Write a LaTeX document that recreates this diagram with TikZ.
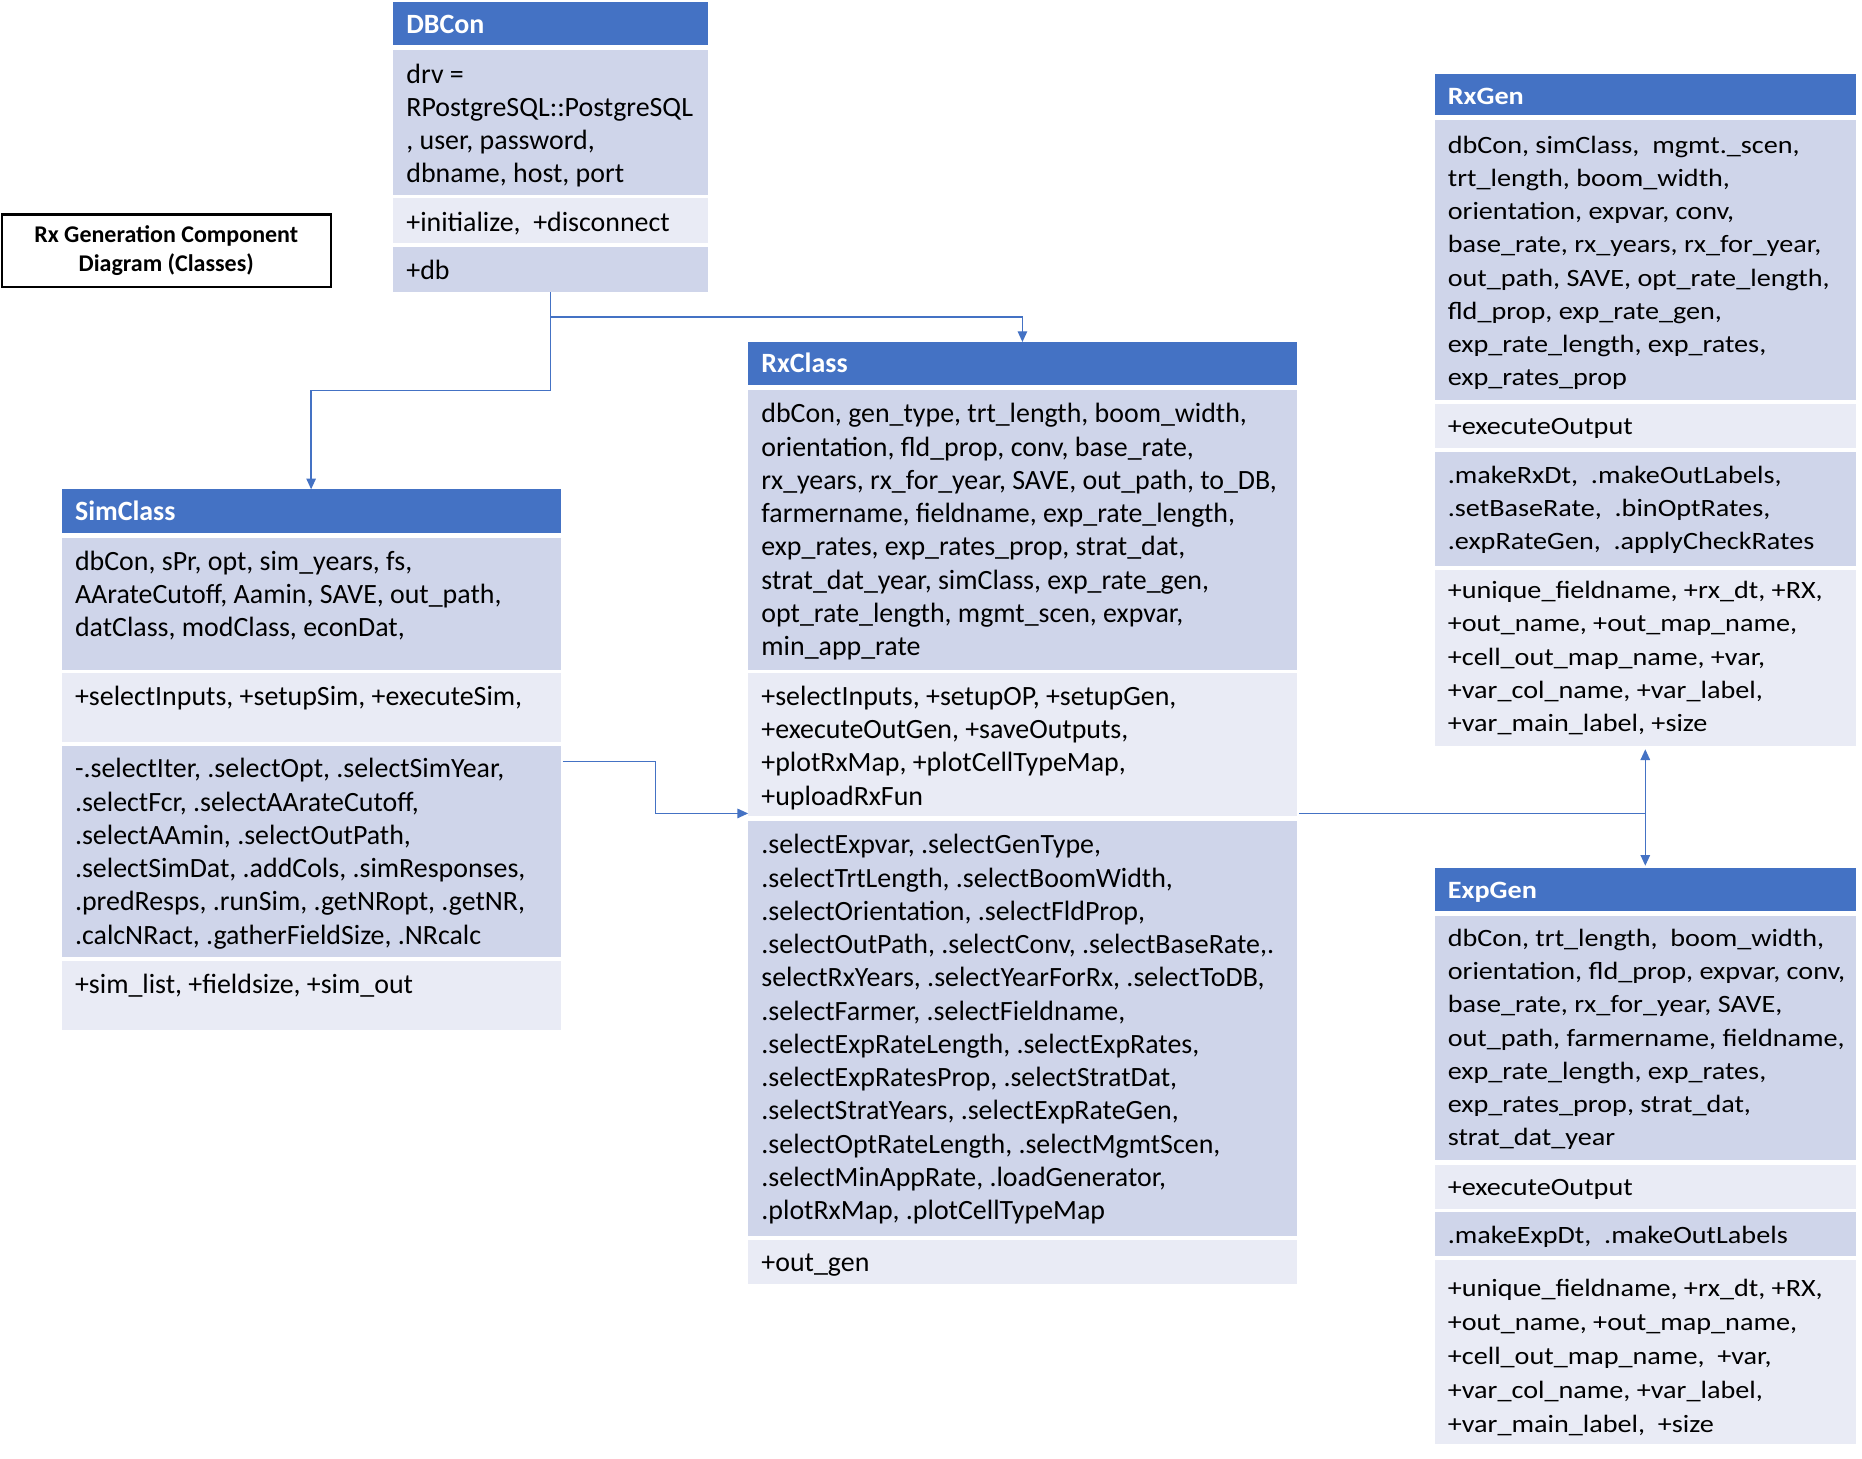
\documentclass[tikz,border=0pt]{standalone}
\usepackage{fontspec}
\setmainfont{Carlito}
\newfontfamily\widefont[FakeStretch=1.13]{Carlito}
\usetikzlibrary{arrows.meta}
\definecolor{hdrblue}{HTML}{4472C4}
\definecolor{rowdark}{HTML}{CFD5EA}
\definecolor{rowlight}{HTML}{E9EBF5}
\tikzset{
  hdr/.style={rectangle, fill=hdrblue, inner sep=0pt, outer sep=0pt},
  sec/.style={rectangle, inner sep=0pt, outer sep=0pt},
  hdrtext/.style={inner sep=0pt, text=white, font=\fontsize{23.5}{28}\selectfont\bfseries},
  hdrtextw/.style={inner sep=0pt, text=white, font=\widefont\fontsize{21}{28}\selectfont\bfseries},
  txt/.style={inner sep=0pt, font=\fontsize{23.5}{28}\selectfont},
  txtw/.style={inner sep=0pt, font=\widefont\fontsize{21}{28}\selectfont},
  conn/.style={draw=hdrblue, line width=1.1pt},
  tip/.style={-{Triangle[length=9pt,width=8pt]}},
  titlebox/.style={draw=black, line width=2pt, minimum width=277pt, minimum height=61pt,
    inner sep=0pt, align=center, font=\fontsize{20.2}{24}\selectfont\bfseries},
}
% name, x, ytop, ybot, width, title, style
\newcommand\clshead[7]{%
  \node[hdr, minimum width=#5, minimum height=#4-#3, anchor=north west] (#1) at (#2,#3) {};
  \node[#7, anchor=base west] (#1-t) at (#2+11,#3+26) {#6};
}
% name, x, ytop, ybot, width, fill, style, text, baseline offset
\newcommand\clssec[9]{%
  \node[sec, fill=#6, minimum width=#5, minimum height=#4-#3, anchor=north west] (#1) at (#2,#3) {};
  \node[#7, anchor=base west] (#1-t) at (#2+11,#3+#9) {\parbox[t]{#5pt}{\raggedright #8}};
}
\begin{document}
\begin{tikzpicture}[x=1pt, y=-1pt]
\useasboundingbox (0,0) rectangle (1568,1228);

% title
\node[titlebox] (title) at (140,211) {Rx Generation Component\\Diagram (Classes)};

% DBCon
\clshead{dbcon}{331}{2}{38}{265}{DBCon}{hdrtext}
\clssec{dbcon-s1}{331}{42}{164}{265}{rowdark}{txt}{drv =\\RPostgreSQL::PostgreSQL\\, user, password,\\dbname, host, port}{28}
\clssec{dbcon-s2}{331}{167}{205}{265}{rowlight}{txt}{+initialize,\ \ +disconnect}{28}
\clssec{dbcon-s3}{331}{208}{246}{265}{rowdark}{txt}{+db}{27}

% SimClass
\clshead{simclass}{52}{412}{449}{420}{SimClass}{hdrtext}
\clssec{simclass-s1}{52}{453}{564}{420}{rowdark}{txt}{dbCon, sPr, opt, sim\_years, fs,\\AArateCutoff, Aamin, SAVE, out\_path,\\datClass, modClass, econDat,}{27}
\clssec{simclass-s2}{52}{567}{625}{420}{rowlight}{txt}{+selectInputs, +setupSim, +executeSim,}{27}
\clssec{simclass-s3}{52}{628}{806}{420}{rowdark}{txt}{-.selectIter, .selectOpt, .selectSimYear,\\.selectFcr, .selectAArateCutoff,\\.selectAAmin, .selectOutPath,\\.selectSimDat, .addCols, .simResponses,\\.predResps, .runSim, .getNRopt, .getNR,\\.calcNRact, .gatherFieldSize, .NRcalc}{27}
\clssec{simclass-s4}{52}{809}{867}{420}{rowlight}{txt}{+sim\_list, +fieldsize, +sim\_out}{28}

% RxClass
\clshead{rxclass}{630}{288}{324}{462}{RxClass}{hdrtext}
\clssec{rxclass-s1}{630}{328}{564}{462}{rowdark}{txt}{dbCon, gen\_type, trt\_length, boom\_width,\\orientation, fld\_prop, conv, base\_rate,\\rx\_years, rx\_for\_year, SAVE, out\_path, to\_DB,\\farmername, fieldname, exp\_rate\_length,\\exp\_rates, exp\_rates\_prop, strat\_dat,\\strat\_dat\_year, simClass, exp\_rate\_gen,\\opt\_rate\_length, mgmt\_scen, expvar,\\min\_app\_rate}{28}
\clssec{rxclass-s2}{630}{567}{687}{462}{rowlight}{txt}{+selectInputs, +setupOP, +setupGen,\\+executeOutGen, +saveOutputs,\\+plotRxMap, +plotCellTypeMap,\\+uploadRxFun}{27}
\clssec{rxclass-s3}{630}{691}{1041}{462}{rowdark}{txt}{.selectExpvar, .selectGenType,\\.selectTrtLength, .selectBoomWidth,\\.selectOrientation, .selectFldProp,\\.selectOutPath, .selectConv, .selectBaseRate,.\\selectRxYears, .selectYearForRx, .selectToDB,\\.selectFarmer, .selectFieldname,\\.selectExpRateLength, .selectExpRates,\\.selectExpRatesProp, .selectStratDat,\\.selectStratYears, .selectExpRateGen,\\.selectOptRateLength, .selectMgmtScen,\\.selectMinAppRate, .loadGenerator,\\.plotRxMap, .plotCellTypeMap}{28}
\clssec{rxclass-s4}{630}{1044}{1081}{462}{rowlight}{txt}{+out\_gen}{27}

% RxGen
\clshead{rxgen}{1208}{62}{97}{355}{RxGen}{hdrtextw}
\clssec{rxgen-s1}{1208}{101}{337}{355}{rowdark}{txtw}{dbCon, simClass,\ \ mgmt.\_scen,\\trt\_length, boom\_width,\\orientation, expvar, conv,\\base\_rate, rx\_years, rx\_for\_year,\\out\_path, SAVE, opt\_rate\_length,\\fld\_prop, exp\_rate\_gen,\\exp\_rate\_length, exp\_rates,\\exp\_rates\_prop}{28}
\clssec{rxgen-s2}{1208}{340}{377}{355}{rowlight}{txtw}{+executeOutput}{26}
\clssec{rxgen-s3}{1208}{381}{477}{355}{rowdark}{txtw}{.makeRxDt,\ \ .makeOutLabels,\\.setBaseRate,\ \ .binOptRates,\\.expRateGen,\ \ .applyCheckRates}{26}
\clssec{rxgen-s4}{1208}{480}{628}{355}{rowlight}{txtw}{+unique\_fieldname, +rx\_dt, +RX,\\+out\_name, +out\_map\_name,\\+cell\_out\_map\_name, +var,\\+var\_col\_name, +var\_label,\\+var\_main\_label, +size}{24}

% ExpGen
\clshead{expgen}{1208}{731}{767}{355}{ExpGen}{hdrtextw}
\clssec{expgen-s1}{1208}{771}{977}{355}{rowdark}{txtw}{dbCon, trt\_length,\ \ boom\_width,\\orientation, fld\_prop, expvar, conv,\\base\_rate, rx\_for\_year, SAVE,\\out\_path, farmername, fieldname,\\exp\_rate\_length, exp\_rates,\\exp\_rates\_prop, strat\_dat,\\strat\_dat\_year}{26}
\clssec{expgen-s2}{1208}{981}{1018}{355}{rowlight}{txtw}{+executeOutput}{26}
\clssec{expgen-s3}{1208}{1021}{1058}{355}{rowdark}{txtw}{.makeExpDt,\ \ .makeOutLabels}{26}
\clssec{expgen-s4}{1208}{1061}{1216}{355}{rowlight}{txtw}{\baselineskip=28.5pt +unique\_fieldname, +rx\_dt, +RX,\\+out\_name, +out\_map\_name,\\+cell\_out\_map\_name,\ \ +var,\\+var\_col\_name, +var\_label,\\+var\_main\_label,\ \ +size}{31}

% connectors
\coordinate (bendA) at (463.5,329);
\coordinate (bendB) at (463.5,267);
\draw[conn,tip] (dbcon-s3.south) -- (bendA) -| (simclass.north);
\draw[conn,tip] (bendB) -| (rxclass.north);
\coordinate (simout) at (474,641);
\coordinate (bendC) at (552,641);
\draw[conn,tip] (simout) -- (bendC) |- ([yshift=2pt]rxclass-s2.south west);
\coordinate (rxout) at ([yshift=2pt,xshift=2pt]rxclass-s2.south east);
\coordinate (j2) at (rxgen-s4.south |- rxout);
\draw[conn] (rxout) -- (j2);
\draw[conn,tip,shorten >=3pt] (j2) -- (rxgen-s4.south);
\draw[conn,tip,shorten >=2pt] (j2) -- (expgen.north);
\end{tikzpicture}
\end{document}
